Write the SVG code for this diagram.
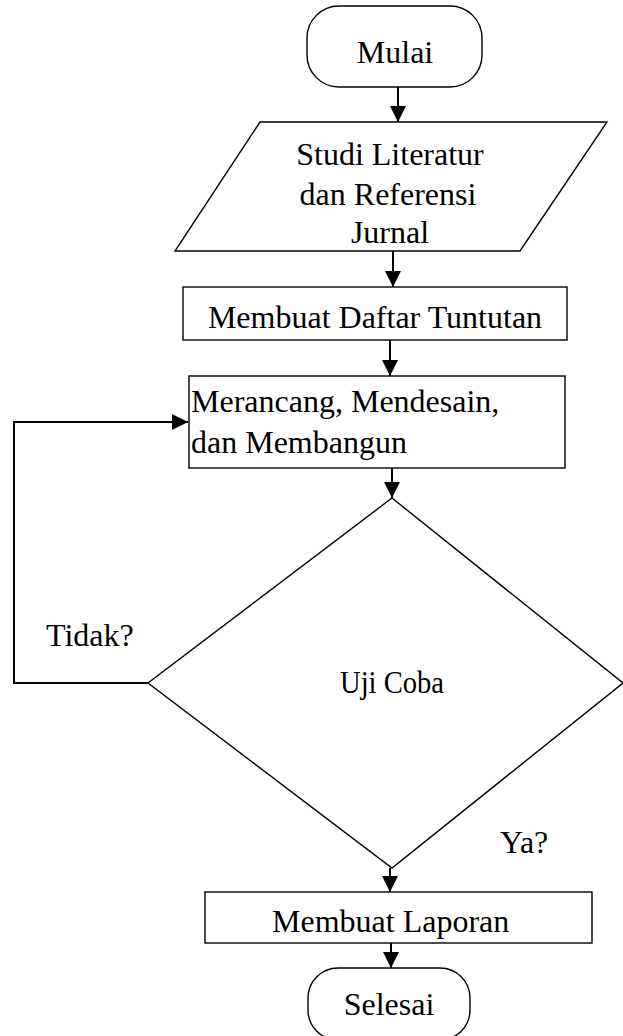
<svg xmlns="http://www.w3.org/2000/svg" width="623" height="1036" viewBox="0 0 623 1036">
<style>
.shape{fill:#fff;stroke:#000;stroke-width:1.4}
.conn{fill:none;stroke:#000;stroke-width:2}
.t{font-family:"Liberation Serif","Times New Roman",serif;font-size:32px;fill:#000}
.c{text-anchor:middle}
</style>
<defs>
<marker id="ah" markerUnits="userSpaceOnUse" markerWidth="16" markerHeight="16" viewBox="0 0 14 14" refX="14" refY="7" orient="auto">
<path d="M0,0 L14,7 L0,14 Z" fill="#000"/>
</marker>
</defs>
<rect width="623" height="1036" fill="#fff"/>
<g id="connectors">
<line class="conn" x1="398" y1="87" x2="398" y2="122" marker-end="url(#ah)"/>
<line class="conn" x1="393" y1="251" x2="393" y2="287" marker-end="url(#ah)"/>
<line class="conn" x1="390" y1="340" x2="390" y2="376" marker-end="url(#ah)"/>
<line class="conn" x1="392" y1="468" x2="392" y2="498" stroke-width="1.4" marker-end="url(#ah)"/>
<line class="conn" x1="390" y1="868" x2="390" y2="892" marker-end="url(#ah)"/>
<line class="conn" x1="391" y1="943" x2="391" y2="968" marker-end="url(#ah)"/>
<polyline class="conn" points="148,683 14,683 14,422 188,422" marker-end="url(#ah)"/>
</g>
<g id="mulai">
<rect class="shape" x="307" y="6" width="175" height="81" rx="32" ry="32"/>
<text class="t c" x="395" y="63">Mulai</text>
</g>
<g id="studi">
<polygon class="shape" points="260,122 607,122 520,251 175,251"/>
<text class="t c" x="390" y="165">Studi Literatur</text>
<text class="t c" x="388" y="205">dan Referensi</text>
<text class="t c" x="390" y="243">Jurnal</text>
</g>
<g id="daftar">
<rect class="shape" x="183" y="287" width="384" height="53"/>
<text class="t c" x="375" y="328">Membuat Daftar Tuntutan</text>
</g>
<g id="merancang">
<rect class="shape" x="189" y="376" width="376" height="92"/>
<text class="t" x="191" y="412">Merancang, Mendesain,</text>
<text class="t" x="191" y="453">dan Membangun</text>
</g>
<g id="ujicoba">
<polygon class="shape" points="392,498 623,683 392,868 148,683"/>
<text class="t" x="340" y="693" font-size="31" textLength="104" lengthAdjust="spacingAndGlyphs">Uji Coba</text>
</g>
<text class="t" x="46" y="646">Tidak?</text>
<text class="t" x="500" y="853">Ya?</text>
<g id="laporan">
<rect class="shape" x="205" y="892" width="387" height="51"/>
<text class="t" x="272" y="932">Membuat Laporan</text>
</g>
<g id="selesai">
<rect class="shape" x="308" y="968" width="162" height="72" rx="30" ry="30"/>
<text class="t c" x="389" y="1015">Selesai</text>
</g>
</svg>
